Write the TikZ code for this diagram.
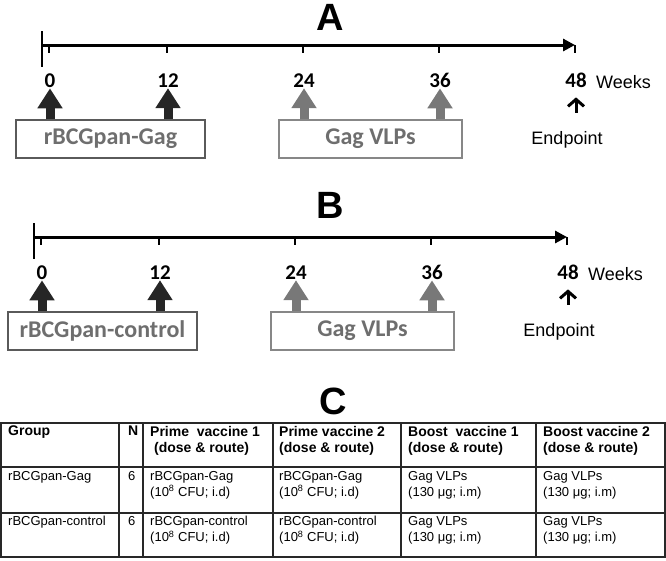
\documentclass[tikz,border=0pt]{standalone}
\usepackage{fontspec}
\setmainfont{Liberation Sans}
\newfontfamily\calibri{Carlito}
\usepackage{xcolor}
\usetikzlibrary{arrows.meta}

\definecolor{darkarrow}{RGB}{38,38,38}
\definecolor{lightarrow}{RGB}{120,120,120}
\definecolor{boxtext}{RGB}{110,110,110}
\definecolor{primeline}{RGB}{90,90,90}
\definecolor{boostline}{RGB}{135,135,135}
\definecolor{gridline}{RGB}{40,40,40}

\begin{document}
\begin{tikzpicture}[x=1pt, y=-1pt,
    title/.style={font=\bfseries\fontsize{38}{40}\selectfont, inner sep=0pt, anchor=base},
    wk/.style={font=\calibri\bfseries\fontsize{21}{24}\selectfont, inner sep=0pt, anchor=base},
    vacbox/.style={line width=1.2pt, minimum height=38pt, inner sep=0pt, text=boxtext,
        font=\calibri\bfseries\fontsize{24}{28}\selectfont},
    dose/.style={line width=9pt, shorten >=1pt, -{Triangle[length=20pt,width=24pt]}},
    axis/.style={line width=3pt, -{Triangle[length=12pt,width=12pt]}},
    endarrow/.style={line width=3pt, -{Straight Barb[length=7pt,width=16pt]}},
    plain/.style={font=\fontsize{18}{20}\selectfont, inner sep=0pt},
    grid/.style={line width=1.5pt, gridline},
    hdr/.style={font=\bfseries\fontsize{14}{16}\selectfont, align=left, inner sep=0pt, anchor=north west},
    cell/.style={font=\fontsize{13}{16}\selectfont, align=left, inner sep=0pt, anchor=north west}]

    \useasboundingbox (0,0) rectangle (666,560);

    % timelines A and B
    \foreach \pn/\dx/\dy/\ty/\grp in {A/0/0/30/rBCGpan-Gag, B/-8/192/218/rBCGpan-control} {
        \node[title] (t\pn) at (330,\ty) {\pn};
        \begin{scope}[shift={(\dx,\dy)}]
            \draw[line width=2pt] (42,31) -- (42,67);
            \draw[axis] (42,45) -- (575,45);
            \foreach \tx/\w in {49/0, 167/12, 303/24, 439/36, 575/48} {
                \draw[line width=2pt] (\tx,45) -- (\tx,53);
                \node[wk] (w\pn\w) at (\tx+1,87) {\w};
            }
            \node[plain, anchor=base west] (weeks\pn) at (596,88) {Weeks};

            \node[vacbox, draw=primeline, minimum width=189pt] (prime\pn) at (110.5,139) {\grp};
            \node[vacbox, draw=boostline, minimum width=183pt] (boost\pn) at (370.5,139) {Gag VLPs};
            \node[plain, anchor=base] (end\pn) at (567,144) {Endpoint};

            \foreach \w in {0,12}
                \draw[dose, darkarrow] (prime\pn.north -| w\pn\w.south) -- (w\pn\w.south);
            \foreach \w in {24,36}
                \draw[dose, lightarrow] (boost\pn.north -| w\pn\w.south) -- (w\pn\w.south);
            \draw[endarrow, shorten <=18pt, shorten >=10pt] (end\pn.north -| w\pn48.south) -- (w\pn48.south);
        \end{scope}
    }

    % table C
    \node[title] (tC) at (333,414) {C};
    \draw[grid] (1,423) rectangle (665,557);
    \foreach \yy in {467,513}
        \draw[grid] (1,\yy) -- (665,\yy);
    \foreach \xx in {119,143,273,401,536}
        \draw[grid] (\xx,423) -- (\xx,557);

    \foreach \xx/\nm/\txt in {8/grp/Group, 128/n/N,
            150/pa/{Prime\ \ vaccine 1\\\ (dose \& route)},
            279/pb/{Prime vaccine 2\\(dose \& route)},
            408/ba/{Boost\ \ vaccine 1\\(dose \& route)},
            543/bb/{Boost vaccine 2\\(dose \& route)}}
        \node[hdr] (h\nm) at (\xx,426) {\txt};

    \foreach \yy/\rn/\grp in {471/1/rBCGpan-Gag, 516/2/rBCGpan-control} {
        \node[cell] (g\rn) at (8,\yy) {\grp};
        \node[cell] (n\rn) at (128,\yy) {6};
        \node[cell] (pa\rn) at (150,\yy) {\grp\\(10\textsuperscript{8} CFU; i.d)};
        \node[cell] (pb\rn) at (279,\yy) {\grp\\(10\textsuperscript{8} CFU; i.d)};
        \node[cell] (ba\rn) at (408,\yy) {Gag VLPs\\(130 μg; i.m)};
        \node[cell] (bb\rn) at (543,\yy) {Gag VLPs\\(130 μg; i.m)};
    }

\end{tikzpicture}
\end{document}
